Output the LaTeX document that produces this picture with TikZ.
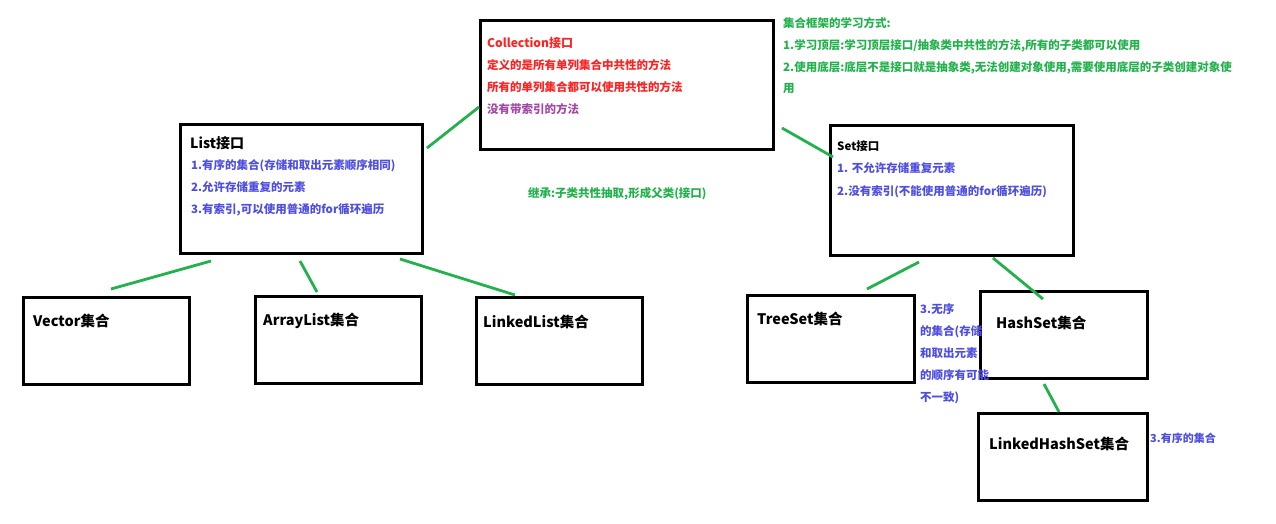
\documentclass[tikz,border=0pt]{standalone}
\usepackage{fontspec}
\setmainfont{Noto Sans CJK SC}
\usetikzlibrary{positioning}

\definecolor{linkgreen}{HTML}{22B14C}
\definecolor{notered}{HTML}{FF2222}
\definecolor{noteblue}{HTML}{4E4EE0}
\definecolor{notepurple}{HTML}{A349A4}

\tikzset{
  box/.style={draw=black, line width=3pt, rectangle, anchor=north west, inner sep=0pt},
  link/.style={draw=linkgreen, line width=2.8pt},
  txt/.style={anchor=north west, inner sep=0pt, align=left,
    font=\bfseries\fontsize{11.5pt}{22pt}\selectfont},
  title/.style={anchor=north west, inner sep=0pt,
    font=\bfseries\fontsize{14.5pt}{17pt}\selectfont}
}

\newcommand{\mkbox}[5]{%
  \node[box, minimum width=#4, minimum height=#5] (#1) at (#2,#3) {};
}

\begin{document}
\begin{tikzpicture}[x=1pt, y=-1pt]
  \useasboundingbox (0,0) rectangle (1276,523);

  % boxes
  \mkbox{coll}{479}{19}{293pt}{129pt}
  \mkbox{list}{179}{123}{242pt}{129pt}
  \mkbox{set}{829}{124}{243pt}{130pt}
  \mkbox{vector}{22}{296}{166pt}{87pt}
  \mkbox{arraylist}{254}{295}{166pt}{87pt}
  \mkbox{linkedlist}{475}{296}{166pt}{87pt}
  \mkbox{treeset}{746}{294}{167pt}{87pt}
  \mkbox{hashset}{979}{290}{167pt}{87pt}
  \mkbox{linkedhashset}{977}{412}{169pt}{87pt}

  % Collection
  \node[txt] (colltext) at (487,37.5)
  {
    \textcolor{notered}{\fontsize{12pt}{22pt}\selectfont Collection接口}\\
    \textcolor{notered}{定义的是所有单列集合中共性的方法}\\
    \textcolor{notered}{所有的单列集合都可以使用共性的方法}\\
    \textcolor{notepurple}{没有带索引的方法}
  };

  % learning notes
  \node[txt, text=linkgreen, font=\bfseries\fontsize{11.5pt}{21.7pt}\selectfont] (studytext) at (783,17.5)
  {
    集合框架的学习方式:\\
    1.学习顶层:学习顶层接口/抽象类中共性的方法,所有的子类都可以使用\\
    2.使用底层:底层不是接口就是抽象类,无法创建对象使用,需要使用底层的子类创建对象使\\
    用
  };
  \node[txt, text=linkgreen] (inherit) at (528,187.5) {继承:子类共性抽取,形成父类(接口)};

  % List
  \node[title, font=\bfseries\fontsize{14pt}{17pt}\selectfont] (listtitle) at (190,136.6) {List接口};
  \node[txt, text=noteblue] (listtext) at (191,159.5)
  {
    1.有序的集合(存储和取出元素顺序相同)\\
    2.允许存储重复的元素\\
    3.有索引,可以使用普通的for循环遍历
  };

  % Set
  \node[txt, text=black] (settitle) at (837,140.5) {Set接口};
  \node[txt, text=noteblue, font=\bfseries\fontsize{11.5pt}{23pt}\selectfont] (settext) at (837,162.5)
  {
    1. 不允许存储重复元素\\
    2.没有索引(不能使用普通的for循环遍历)
  };

  % implementations
  \node[title] (vectortitle) at (33,313.4) {Vector集合};
  \node[title] (arraylisttitle) at (263,312.4) {ArrayList集合};
  \node[title] (linkedlisttitle) at (483,314.4) {LinkedList集合};
  \node[title] (treesettitle) at (757,311.4) {TreeSet集合};
  \node[title] (hashsettitle) at (996,315.4) {HashSet集合};
  \node[title] (linkedhashsettitle) at (989,436.4) {LinkedHashSet集合};

  \node[txt, text=noteblue] (hashnote) at (920,303.5)
  {
    3.无序\\
    的集合(存储\\
    和取出元素\\
    的顺序有可能\\
    不一致)
  };
  \node[txt, text=noteblue, font=\bfseries\fontsize{11pt}{20pt}\selectfont] (ordernote) at (1150,432.5) {3.有序的集合};

  % connectors
  \draw[link] ([shift={(3,25)}]list.north east) -- ([shift={(0,88)}]coll.north west);
  \draw[link] ([shift={(7,109)}]coll.north east) -- ([shift={(4,33)}]set.north west);
  \draw[link] ([shift={(32,6)}]list.south west) -- ([shift={(89,-7)}]vector.north west);
  \draw[link] ([shift={(121,6)}]list.south west) -- ([shift={(63,-3)}]arraylist.north west);
  \draw[link] ([shift={(221,4)}]list.south west) -- ([shift={(40,-1)}]linkedlist.north west);
  \draw[link] ([shift={(90,5)}]set.south west) -- ([shift={(121,-5)}]treeset.north west);
  \draw[link] ([shift={(164,1)}]set.south west) -- ([shift={(64,9)}]hashset.north west);
  \draw[link] ([shift={(65,4)}]hashset.south west) -- ([shift={(82,0)}]linkedhashset.north west);

\end{tikzpicture}
\end{document}
